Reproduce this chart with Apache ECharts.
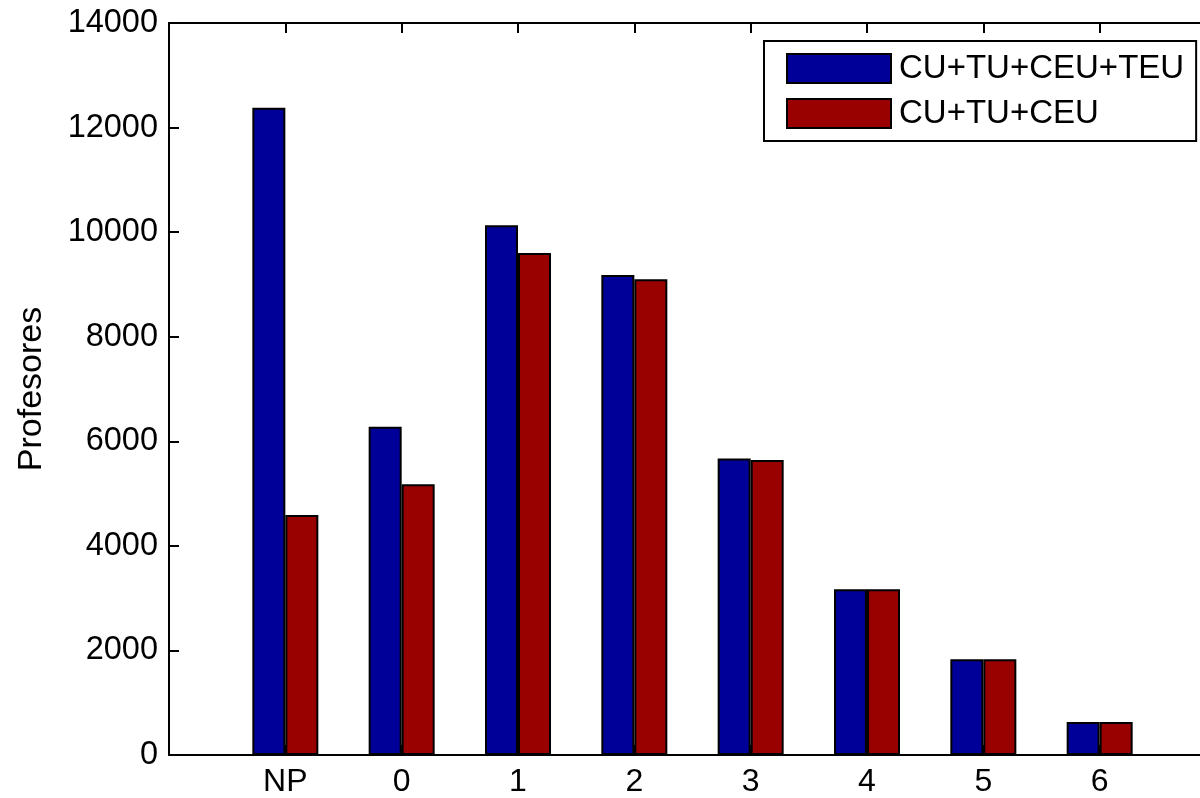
<!DOCTYPE html>
<html>
<head>
<meta charset="utf-8">
<script src="https://cdn.jsdelivr.net/npm/echarts@6/dist/echarts.min.js"></script>
<style>html,body{margin:0;padding:0;background:#fff;overflow:hidden}#c{width:1220px;height:798px}</style>
</head>
<body>
<div id="c"></div>
<script>
var categories = ['NP', '0', '1', '2', '3', '4', '5', '6'];
var seriesNames = ['CU+TU+CEU+TEU', 'CU+TU+CEU'];
var valuesAll = [12380, 6280, 10130, 9180, 5670, 3170, 1830, 630];
var valuesNoTEU = [4590, 5180, 9600, 9100, 5640, 3170, 1830, 630];
var yTicks = [0, 2000, 4000, 6000, 8000, 10000, 12000, 14000];

// pad one empty slot on each side (x range 0..9 as in the original)
var xCats = [''].concat(categories, ['']);
function pad(a) { return [null].concat(a, [null]); }

var font = 'Liberation Sans, Arial, Helvetica, sans-serif';
var chart = echarts.init(document.getElementById('c'));
function line() { return { show: true, onZero: false, lineStyle: { color: '#000', width: 2 } }; }
function tick() { return { show: true, inside: true, length: 10, alignWithLabel: false, lineStyle: { color: '#000', width: 2 } }; }

chart.setOption({
  animation: false,
  backgroundColor: '#fff',
  grid: { left: 169, top: 23, width: 1047, bottom: 41, containLabel: false },
  legend: {
    orient: 'vertical',
    left: 764, top: 41,
    data: seriesNames,
    icon: 'rect',
    backgroundColor: '#fff',
    borderColor: '#000', borderWidth: 2,
    padding: [11, 12, 11, 22],
    itemWidth: 104, itemHeight: 29, itemGap: 12,
    textStyle: { fontFamily: font, fontSize: 33, lineHeight: 29, color: '#000', padding: [3, 0, 0, 3] },
    selectedMode: false
  },
  xAxis: [{
    type: 'category', data: xCats, boundaryGap: false, position: 'bottom',
    axisLine: line(), axisTick: tick(),
    axisLabel: { fontFamily: font, fontSize: 32, color: '#000', margin: 11, interval: 0 },
    splitLine: { show: false }
  }, {
    type: 'category', data: xCats, boundaryGap: false, position: 'top',
    axisLine: line(), axisTick: tick(), axisLabel: { show: false }, splitLine: { show: false }
  }],
  yAxis: [{
    type: 'value', min: 0, max: 14000, interval: 2000, position: 'left',
    name: 'Profesores', nameLocation: 'middle', nameGap: 120,
    nameTextStyle: { fontFamily: font, fontSize: 34, color: '#000' },
    axisLine: line(), axisTick: tick(),
    axisLabel: { fontFamily: font, fontSize: 32.5, color: '#000', margin: 11,
      formatter: function (v) { return yTicks.indexOf(v) >= 0 ? String(v) : ''; } },
    splitLine: { show: false }
  }, {
    type: 'value', min: 0, max: 14000, interval: 2000, position: 'right',
    axisLine: line(), axisTick: tick(), axisLabel: { show: false }, splitLine: { show: false }
  }],
  series: [{
    name: seriesNames[0], type: 'bar', data: pad(valuesAll),
    xAxisIndex: 0, yAxisIndex: 0,
    barWidth: 33, barGap: '0%',
    itemStyle: { color: '#000099', borderColor: '#000', borderWidth: 2 }
  }, {
    name: seriesNames[1], type: 'bar', data: pad(valuesNoTEU),
    xAxisIndex: 0, yAxisIndex: 0,
    barWidth: 33, barGap: '0%',
    itemStyle: { color: '#990000', borderColor: '#000', borderWidth: 2 }
  }]
});
</script>
</body>
</html>
